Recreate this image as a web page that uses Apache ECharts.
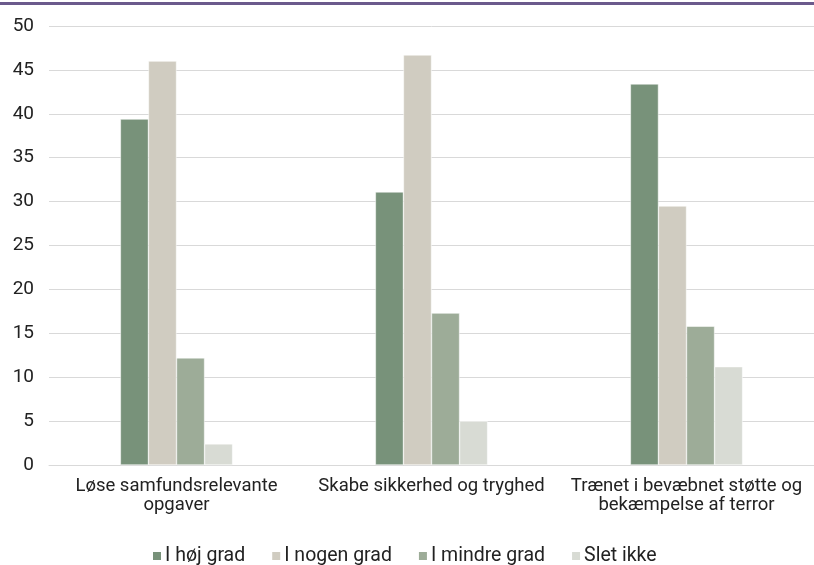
<!DOCTYPE html>
<html><head><meta charset="utf-8">
<script src="https://cdn.jsdelivr.net/npm/echarts@6/dist/echarts.min.js"></script>
<style>html,body{margin:0;padding:0;background:#fff}#c{width:814px;height:565px}</style>
</head><body><div id="c"></div>
<script>
const categories = ['Løse samfundsrelevante\nopgaver', 'Skabe sikkerhed og tryghed', 'Trænet i bevæbnet støtte og\nbekæmpelse af terror'];
const seriesNames = ['I høj grad', 'I nogen grad', 'I mindre grad', 'Slet ikke'];
const hoejGrad = [39.4, 31.1, 43.4];
const nogenGrad = [46.0, 46.7, 29.5];
const mindreGrad = [12.2, 17.3, 15.8];
const sletIkke = [2.4, 5.0, 11.2];
const yTicks = [0, 5, 10, 15, 20, 25, 30, 35, 40, 45, 50];
const colors = ['#78927a', '#d0ccc1', '#9dac98', '#d8dbd4'];
const values = [hoejGrad, nogenGrad, mindreGrad, sletIkke];

const chart = echarts.init(document.getElementById('c'));
const font = 'Roboto, sans-serif';
chart.setOption({
  animation: false,
  color: colors,
  graphic: [{type: 'rect', shape: {x: 0, y: 2, width: 814, height: 3}, style: {fill: '#6b5a8c'}}],
  grid: {left: 49, right: -5, top: 26, bottom: 100},
  legend: {
    top: 541, left: 146, itemWidth: 10, itemHeight: 10, itemGap: 25,
    icon: 'rect',
    textStyle: {fontFamily: font, fontSize: 19.5, color: '#222', padding: [0, 0, 0, -2]},
    data: seriesNames
  },
  xAxis: {
    type: 'category', data: categories,
    axisLine: {lineStyle: {color: '#d9d9d9'}},
    axisTick: {show: false},
    axisLabel: {fontFamily: font, fontSize: 18.5, color: '#222', lineHeight: 19, margin: 12, interval: 0}
  },
  yAxis: {
    type: 'value', min: 0, max: 50, interval: 5,
    axisLabel: {fontFamily: font, fontSize: 19, color: '#222', margin: 15,
      formatter: v => yTicks.includes(v) ? String(v) : ''},
    splitLine: {lineStyle: {color: '#d9d9d9', width: 1}},
    axisLine: {show: false}, axisTick: {show: false}
  },
  series: values.map((d, i) => ({
    name: seriesNames[i], type: 'bar', data: d, barWidth: '11%', barGap: '0%',
    itemStyle: {color: colors[i], borderColor: '#fff', borderWidth: 0.5}
  }))
});
</script></body></html>
